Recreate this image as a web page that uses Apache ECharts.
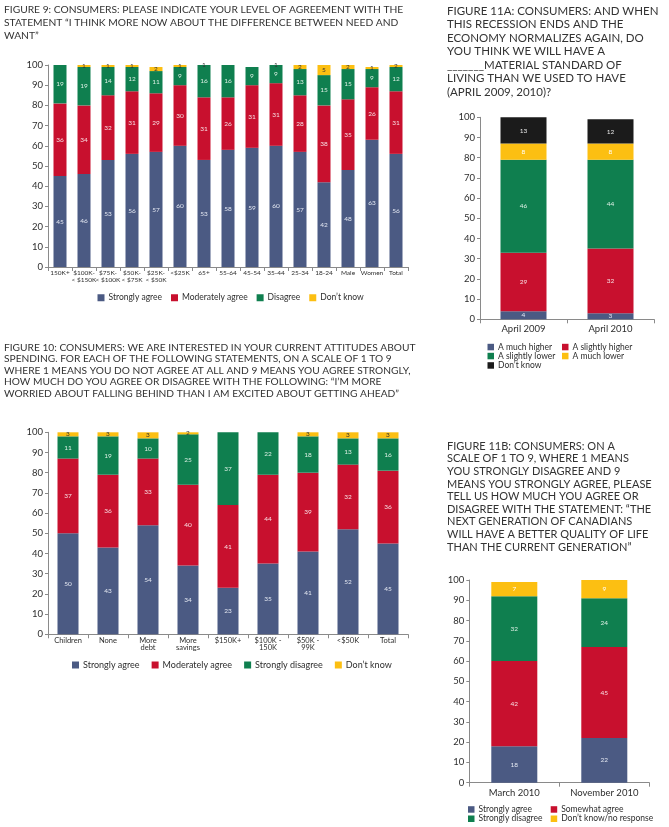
<!DOCTYPE html>
<html><head><meta charset="utf-8">
<script src="https://cdn.jsdelivr.net/npm/echarts/dist/echarts.min.js"></script>
<style>html,body{margin:0;padding:0;background:#fff;width:669px;height:827px;overflow:hidden}
.c{position:absolute;left:0;top:0;width:669px;height:827px}</style></head>
<body>
<div id="f9" class="c"></div><div id="f10" class="c"></div><div id="f11a" class="c"></div><div id="f11b" class="c"></div>
<script>
// ---------- DATA ----------
const fig9Categories = ['150K+', '$100K-\n< $150K', '$75K-\n< $100K', '$50K-\n< $75K', '$25K-\n< $50K', '<$25K', '65+', '55-64', '45-54', '35-44', '25-34', '18-24', 'Male', 'Women', 'Total'];
const fig9StronglyAgree   = [45, 46, 53, 56, 57, 60, 53, 58, 59, 60, 57, 42, 48, 63, 56];
const fig9ModeratelyAgree = [36, 34, 32, 31, 29, 30, 31, 26, 31, 31, 28, 38, 35, 26, 31];
const fig9Disagree        = [19, 19, 14, 12, 11, 9, 16, 16, 9, 9, 13, 15, 15, 9, 12];
const fig9DontKnow        = [0, 1, 1, 1, 2, 1, 1, 0, 0, 1, 2, 5, 2, 1, 2];

const fig10Categories = ['Children', 'None', 'More\ndebt', 'More\nsavings', '$150K+', '$100K -\n150K', '$50K -\n99K', '<$50K', 'Total'];
const fig10StronglyAgree    = [50, 43, 54, 34, 23, 35, 41, 52, 45];
const fig10ModeratelyAgree  = [37, 36, 33, 40, 41, 44, 39, 32, 36];
const fig10StronglyDisagree = [11, 19, 10, 25, 37, 22, 18, 13, 16];
const fig10DontKnow         = [3, 3, 3, 2, 0, 0, 3, 3, 3];

const fig11aCategories = ['April 2009', 'April 2010'];
const fig11aMuchHigher     = [4, 3];
const fig11aSlightlyHigher = [29, 32];
const fig11aSlightlyLower  = [46, 44];
const fig11aMuchLower      = [8, 8];
const fig11aDontKnow       = [13, 12];

const fig11bCategories = ['March 2010', 'November 2010'];
const fig11bStronglyAgree    = [18, 22];
const fig11bSomewhatAgree    = [42, 45];
const fig11bStronglyDisagree = [32, 24];
const fig11bDontKnow         = [7, 9];

const yTicks = {min: 0, max: 100, interval: 10};

// ---------- STYLE ----------
const FONT = 'Lato, "Liberation Sans", sans-serif';
const C = {blue: '#4b5a83', red: '#c8102e', green: '#0f7f4f', yellow: '#fcbf12', black: '#1b1b1b'};
const TXT = '#2e2e2e';
const TITLE = '#333333';

function series(defs, barWidth, fs) {
  return defs.map(d => ({
    name: d.name, type: 'bar', stack: 'total', barWidth: barWidth, data: d.data,
    itemStyle: {color: d.color}, emphasis: {disabled: true},
    label: {show: true, position: 'inside', fontSize: fs, fontFamily: FONT, color: d.lc,
      formatter: p => p.value ? String(p.value) : ''}
  }));
}
function yAxis() {
  return {type: 'value', min: yTicks.min, max: yTicks.max, interval: yTicks.interval,
    axisLine: {show: true, lineStyle: {color: '#8a8a8a', width: 1}},
    axisTick: {show: true, length: 3, lineStyle: {color: '#8a8a8a'}},
    splitLine: {show: false},
    axisLabel: {fontSize: 9.5, color: TXT, fontFamily: FONT, margin: 5}};
}
function xAxis(cats, fs, lh, margin) {
  return {type: 'category', data: cats,
    axisLine: {show: true, lineStyle: {color: '#8a8a8a', width: 1}},
    axisTick: {show: true, length: 4, lineStyle: {color: '#8a8a8a'}},
    axisLabel: {interval: 0, fontSize: fs, lineHeight: lh, color: TXT, fontFamily: FONT, margin: margin}};
}
function legend(left, top, names, fs, gap, iw) {
  return {left: left, top: top, padding: 0, itemGap: gap, itemWidth: iw, itemHeight: iw, icon: 'rect',
    selectedMode: false, data: names,
    textStyle: {fontSize: fs, lineHeight: fs + 1, color: TXT, fontFamily: FONT, padding: [0, 0, 0, -1]}};
}
function title(text, left, top, fs, lh) {
  return {text: text, left: left, top: top, padding: 0,
    textStyle: {fontSize: fs, lineHeight: lh, fontWeight: 'normal', color: TITLE, fontFamily: FONT}};
}

// ---------- FIGURE 9 ----------
echarts.init(document.getElementById('f9'), null, {renderer: 'canvas'}).setOption({
  animation: false,
  title: title('FIGURE 9: CONSUMERS: PLEASE INDICATE YOUR LEVEL OF AGREEMENT WITH THE\nSTATEMENT \u201CI THINK MORE NOW ABOUT THE DIFFERENCE BETWEEN NEED AND\nWANT\u201D', 4, 3.5, 10.25, 12.7),
  grid: {left: 48, top: 65, width: 360, height: 202},
  xAxis: xAxis(fig9Categories, 6.5, 6.8, 3),
  yAxis: yAxis(),
  legend: legend(97.5, 293, ['Strongly agree', 'Moderately agree', 'Disagree', "Don\u2019t know"], 8.5, 9, 7),
  series: series([
    {name: 'Strongly agree', data: fig9StronglyAgree, color: C.blue, lc: '#e4e8f2'},
    {name: 'Moderately agree', data: fig9ModeratelyAgree, color: C.red, lc: '#f7dfe3'},
    {name: 'Disagree', data: fig9Disagree, color: C.green, lc: '#dcefe4'},
    {name: "Don\u2019t know", data: fig9DontKnow, color: C.yellow, lc: '#333'}
  ], 13, 6.5)
});

// ---------- FIGURE 10 ----------
echarts.init(document.getElementById('f10')).setOption({
  animation: false,
  title: title('FIGURE 10: CONSUMERS: WE ARE INTERESTED IN YOUR CURRENT ATTITUDES ABOUT\nSPENDING. FOR EACH OF THE FOLLOWING STATEMENTS, ON A SCALE OF 1 TO 9\nWHERE 1 MEANS YOU DO NOT AGREE AT ALL AND 9 MEANS YOU AGREE STRONGLY,\nHOW MUCH DO YOU AGREE OR DISAGREE WITH THE FOLLOWING: \u201CI\u2019M MORE\nWORRIED ABOUT FALLING BEHIND THAN I AM EXCITED ABOUT GETTING AHEAD\u201D', 4, 341.5, 10.2, 11.6),
  grid: {left: 48, top: 432.3, width: 360, height: 202},
  xAxis: xAxis(fig10Categories, 7.5, 7, 3),
  yAxis: yAxis(),
  legend: legend(72, 660, ['Strongly agree', 'Moderately agree', 'Strongly disagree', "Don\u2019t know"], 9, 12, 7),
  series: series([
    {name: 'Strongly agree', data: fig10StronglyAgree, color: C.blue, lc: '#e4e8f2'},
    {name: 'Moderately agree', data: fig10ModeratelyAgree, color: C.red, lc: '#f7dfe3'},
    {name: 'Strongly disagree', data: fig10StronglyDisagree, color: C.green, lc: '#dcefe4'},
    {name: "Don\u2019t know", data: fig10DontKnow, color: C.yellow, lc: '#333'}
  ], 21, 6.5)
});

// ---------- FIGURE 11A ----------
echarts.init(document.getElementById('f11a')).setOption({
  animation: false,
  title: title('FIGURE 11A: CONSUMERS: AND WHEN\nTHIS RECESSION ENDS AND THE\nECONOMY NORMALIZES AGAIN, DO\nYOU THINK WE WILL HAVE A\n_______MATERIAL STANDARD OF\nLIVING THAN WE USED TO HAVE\n(APRIL 2009, 2010)?', 447, 4.5, 11.5, 13.5),
  grid: {left: 480, top: 117.3, width: 174, height: 202},
  xAxis: xAxis(fig11aCategories, 9.5, 10, 5),
  yAxis: yAxis(),
  legend: [
    legend(487.5, 342.3, ['A much higher'], 8.5, 0, 6.5),
    legend(562, 342.3, ['A slightly higher'], 8.5, 0, 6.5),
    legend(487.5, 351.3, ['A slightly lower'], 8.5, 0, 6.5),
    legend(562, 351.3, ['A much lower'], 8.5, 0, 6.5),
    legend(487.5, 360.7, ["Don\u2019t know"], 8.5, 0, 6.5)
  ],
  series: series([
    {name: 'A much higher', data: fig11aMuchHigher, color: C.blue, lc: '#e4e8f2'},
    {name: 'A slightly higher', data: fig11aSlightlyHigher, color: C.red, lc: '#f7dfe3'},
    {name: 'A slightly lower', data: fig11aSlightlyLower, color: C.green, lc: '#dcefe4'},
    {name: 'A much lower', data: fig11aMuchLower, color: C.yellow, lc: '#fff'},
    {name: "Don\u2019t know", data: fig11aDontKnow, color: C.black, lc: '#e6e6e6'}
  ], 46, 6.5)
});

// ---------- FIGURE 11B ----------
echarts.init(document.getElementById('f11b')).setOption({
  animation: false,
  title: title('FIGURE 11B: CONSUMERS: ON A\nSCALE OF 1 TO 9, WHERE 1 MEANS\nYOU STRONGLY DISAGREE AND 9\nMEANS YOU STRONGLY AGREE, PLEASE\nTELL US HOW MUCH YOU AGREE OR\nDISAGREE WITH THE STATEMENT: \u201CTHE\nNEXT GENERATION OF CANADIANS\nWILL HAVE A BETTER QUALITY OF LIFE\nTHAN THE CURRENT GENERATION\u201D', 447, 440, 11, 12.6),
  grid: {left: 469.3, top: 580, width: 180, height: 202.7},
  xAxis: xAxis(fig11bCategories, 9.5, 10, 5),
  yAxis: yAxis(),
  legend: [
    legend(468, 804.7, ['Strongly agree'], 8.5, 0, 6.5),
    legend(550.7, 804.7, ['Somewhat agree'], 8.5, 0, 6.5),
    legend(468, 814, ['Strongly disagree'], 8.5, 0, 6.5),
    legend(550.7, 814, ['Don\u2019t know/no response'], 8.5, 0, 6.5)
  ],
  series: series([
    {name: 'Strongly agree', data: fig11bStronglyAgree, color: C.blue, lc: '#e4e8f2'},
    {name: 'Somewhat agree', data: fig11bSomewhatAgree, color: C.red, lc: '#f7dfe3'},
    {name: 'Strongly disagree', data: fig11bStronglyDisagree, color: C.green, lc: '#dcefe4'},
    {name: 'Don\u2019t know/no response', data: fig11bDontKnow, color: C.yellow, lc: '#fff'}
  ], 46, 6.5)
});
</script>
</body></html>
